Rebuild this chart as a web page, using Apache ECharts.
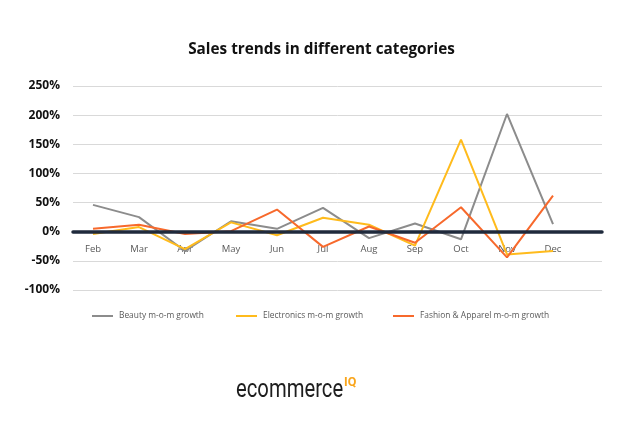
<!DOCTYPE html>
<html>
<head>
<meta charset="utf-8">
<script src="https://cdn.jsdelivr.net/npm/echarts@6/dist/echarts.min.js"></script>
<style>
html,body{margin:0;padding:0;background:#fff;}
#c{width:643px;height:430px;}
</style>
</head>
<body>
<div id="c"></div>
<script>
const months = ['Feb','Mar','Apr','May','Jun','Jul','Aug','Sep','Oct','Nov','Dec'];
const beauty = [46, 25, -33, 18, 5, 41, -11, 14, -13, 202, 13];
const electronics = [-4, 8, -30, 16, -6, 24, 12, -24, 158, -39, -33];
const fashion = [5, 12, -4, 1, 38, -26, 9, -19, 42, -44, 62];
const seriesNames = ['Beauty m-o-m growth', 'Electronics m-o-m growth', 'Fashion & Apparel m-o-m growth'];
const yTicks = { min: -100, max: 250, interval: 50 };

const chart = echarts.init(document.getElementById('c'));
const font = '"Open Sans", "Noto Sans", sans-serif';
const legendLefts = [92, 236, 393];
const gridTop = 86, gridBottom = 140, chartH = 430;
const plotH = chartH - gridTop - gridBottom;
const zeroOffset = -plotH * (0 - yTicks.min) / (yTicks.max - yTicks.min);
chart.setOption({
  backgroundColor: '#ffffff',
  animation: false,
  title: {
    text: 'Sales trends in different categories',
    left: 'center', top: 37,
    textStyle: { fontFamily: font, fontSize: 15.3, fontWeight: 'bold', color: '#111111' }
  },
  legend: seriesNames.map((n, i) => ({
    left: legendLefts[i], top: 312, padding: 0,
    itemWidth: 21, itemHeight: 2, itemGap: 0,
    icon: 'rect',
    textStyle: { fontFamily: font, fontSize: 8.4, color: '#595959', padding: [0, 0, 0, 1] },
    data: [n]
  })),
  grid: [
    { left: 73, right: 41, top: gridTop, bottom: gridBottom },
    { left: 93, right: 90, top: gridTop, bottom: gridBottom }
  ],
  xAxis: [
    { gridIndex: 0, type: 'value', min: 0, max: 1, z: 5,
      axisLine: { show: true, onZero: true, lineStyle: { color: '#1f2a3c', width: 3.5 } },
      axisTick: { show: false }, axisLabel: { show: false }, splitLine: { show: false } },
    { gridIndex: 1, type: 'category', data: months, boundaryGap: false,
      position: 'bottom', offset: zeroOffset,
      axisLine: { show: false, onZero: false }, axisTick: { show: false },
      axisLabel: { margin: 13, fontFamily: font, fontSize: 9.5, color: '#595959' } }
  ],
  yAxis: [
    { gridIndex: 0, type: 'value', min: yTicks.min, max: yTicks.max, interval: yTicks.interval,
      axisLine: { show: false }, axisTick: { show: false },
      axisLabel: { formatter: '{value}%', margin: 13, fontFamily: font, fontSize: 12, fontWeight: 'bold', color: '#111111' },
      splitLine: { lineStyle: { color: '#d9d9d9', width: 1 } } },
    { gridIndex: 1, type: 'value', min: yTicks.min, max: yTicks.max, interval: yTicks.interval,
      axisLine: { show: false }, axisTick: { show: false }, axisLabel: { show: false },
      splitLine: { show: false } }
  ],
  series: [
    { name: seriesNames[0], type: 'line', xAxisIndex: 1, yAxisIndex: 1, data: beauty,
      showSymbol: false, color: '#8c8c8c', lineStyle: { width: 2 } },
    { name: seriesNames[1], type: 'line', xAxisIndex: 1, yAxisIndex: 1, data: electronics,
      showSymbol: false, color: '#ffbb1c', lineStyle: { width: 2 } },
    { name: seriesNames[2], type: 'line', xAxisIndex: 1, yAxisIndex: 1, data: fashion,
      showSymbol: false, color: '#f7692c', lineStyle: { width: 2 } }
  ],
  graphic: [
    { type: 'text', x: 236, y: 378, scaleX: 0.81,
      style: { text: 'ecommerce', fontFamily: 'Roboto, "Open Sans", sans-serif', fontSize: 25, fill: '#1e1e1e' } },
    { type: 'text', x: 344, y: 376,
      style: { text: 'IQ', fontFamily: 'Roboto, "Open Sans", sans-serif', fontSize: 12.5, fontWeight: 'bold', fill: '#f9a51b' } }
  ]
});
</script>
</body>
</html>
